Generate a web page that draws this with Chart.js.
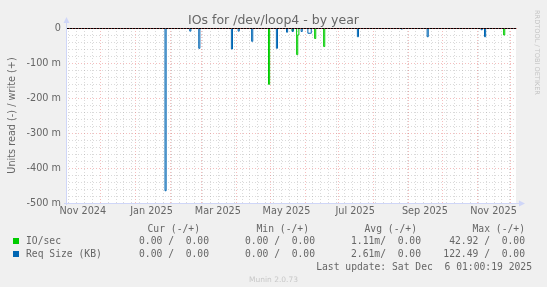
<!DOCTYPE html>
<html lang="en">
<head>
<meta charset="UTF-8">
<title>IOs for /dev/loop4 - by year</title>
<script src="https://cdn.jsdelivr.net/npm/chart.js"></script>
<style>
  body { margin: 0; background: #f0f0f0; }
  #wrap { position: relative; width: 547px; height: 287px; overflow: hidden;
          font-family: 'DejaVu Sans', sans-serif; color: #666; }
  #ioChart { position: absolute; left: 0; top: 0; }
  .t { position: absolute; white-space: pre; line-height: 12px; }
  .mono { font-family: 'DejaVu Sans Mono', monospace; font-size: 9.7px; }
  #title { left: 0; width: 547px; text-align: center; top: 12px; font-size: 12.5px; line-height: 15px; }
  #rrd { left: 533px; top: 10px; font-size: 6.6px; color: #c4c4c4; writing-mode: vertical-rl; line-height: 8px; }
  #munin { left: 0; width: 547px; text-align: center; top: 275px; font-size: 7.5px; color: #c8c8c8; line-height: 10px; }
  .sq { position: absolute; width: 6px; height: 6px; }
</style>
</head>
<body>
<div id="wrap">
  <canvas id="ioChart" width="547" height="287"></canvas>
  <div class="t" id="title">IOs for /dev/loop4 - by year</div>
  <div class="t" id="rrd">RRDTOOL / TOBI OETIKER</div>

  <div class="t mono" style="right:347px; top:223px">Cur (-/+)</div>
  <div class="t mono" style="right:238px; top:223px">Min (-/+)</div>
  <div class="t mono" style="right:130px; top:223px">Avg (-/+)</div>
  <div class="t mono" style="right:22px; top:223px">Max (-/+)</div>

  <div class="sq" style="left:13px; top:238px; background:#00cc00"></div>
  <div class="t mono" style="left:26px; top:235px">IO/sec</div>
  <div class="t mono" style="right:338px; top:235px">0.00 /  0.00</div>
  <div class="t mono" style="right:232px; top:235px">0.00 /  0.00</div>
  <div class="t mono" style="right:126px; top:235px">1.11m/  0.00</div>
  <div class="t mono" style="right:22px; top:235px">42.92 /  0.00</div>

  <div class="sq" style="left:13px; top:251px; background:#0066b3"></div>
  <div class="t mono" style="left:26px; top:248px">Req Size (KB)</div>
  <div class="t mono" style="right:338px; top:248px">0.00 /  0.00</div>
  <div class="t mono" style="right:232px; top:248px">0.00 /  0.00</div>
  <div class="t mono" style="right:126px; top:248px">2.61m/  0.00</div>
  <div class="t mono" style="right:22px; top:248px">122.49 /  0.00</div>

  <div class="t mono" style="right:15px; top:261px">Last update: Sat Dec  6 01:00:19 2025</div>
  <div class="t" id="munin">Munin 2.0.73</div>
</div>

<script>
    // days counted from Nov 1 2024 (400 day window, ends Dec 6 2025)
    const totalDays = 400;
    const monthStarts = [30, 61, 92, 120, 151, 181, 212, 242, 273, 304, 334, 365, 395];
    const labelDays = [15, 76, 135, 196, 257, 319, 380];
    const labelNames = ['Nov 2024', 'Jan 2025', 'Mar 2025', 'May 2025', 'Jul 2025', 'Sep 2025', 'Nov 2025'];
    const yTicks = [0, -100, -200, -300, -400, -500];

    // read side (negative), values in milli-units
    const ioDays = [180, 201, 205, 206, 221, 229, 389];
    const ioValues = [-161, -8, -76, -20, -30, -53, -20];
    const reqDays = [88, 110, 118, 147, 153, 165, 187, 196, 201, 209, 215, 216, 217, 259, 298, 321, 369, 372];
    const reqValues = [-465, -9, -58, -60, -9, -38, -58, -12, -10, -10, -15, -15, -15, -25, -3, -25, -5, -25];

    function series(days, values) {
        const pts = [];
        for (let d = 0; d <= totalDays; d++) {
            const i = days.indexOf(d);
            pts.push({ x: d, y: i >= 0 ? values[i] : 0 });
        }
        return pts;
    }

    const gridPlugin = {
        id: 'munGrid',
        beforeDatasetsDraw(chart) {
            const { ctx, chartArea: a, scales: { x, y } } = chart;
            const px = v => Math.round(v) + 0.5;
            ctx.save();
            ctx.fillStyle = '#ffffff';
            ctx.fillRect(a.left, a.top, a.right - a.left, a.bottom - a.top);
            ctx.lineWidth = 1;

            // minor grid
            ctx.strokeStyle = 'rgba(140,140,140,0.32)';
            ctx.setLineDash([1, 2]);
            ctx.beginPath();
            for (let v = -480; v < 0; v += 20) {
                if (v % 100 === 0) continue;
                const p = px(y.getPixelForValue(v));
                ctx.moveTo(a.left, p); ctx.lineTo(a.right, p);
            }
            for (let d = 2; d < totalDays; d += 7) {
                if (monthStarts.includes(d)) continue;
                const p = px(x.getPixelForValue(d));
                ctx.moveTo(p, a.top); ctx.lineTo(p, a.bottom);
            }
            ctx.stroke();

            // major grid
            ctx.strokeStyle = 'rgba(230,100,100,0.42)';
            ctx.beginPath();
            yTicks.forEach(v => {
                if (v === 0 || v === -500) return;
                const p = px(y.getPixelForValue(v));
                ctx.moveTo(a.left, p); ctx.lineTo(a.right, p);
            });
            monthStarts.forEach(d => {
                const p = px(x.getPixelForValue(d));
                ctx.moveTo(p, a.top); ctx.lineTo(p, a.bottom);
            });
            ctx.stroke();
            ctx.restore();
        },
        afterDatasetsDraw(chart) {
            const { ctx, chartArea: a, scales: { y } } = chart;
            ctx.save();
            ctx.lineWidth = 1;
            // zero line
            const z = Math.round(y.getPixelForValue(0)) + 0.5;
            ctx.strokeStyle = '#000';
            ctx.beginPath(); ctx.moveTo(a.left, z); ctx.lineTo(a.right, z); ctx.stroke();
            ctx.strokeStyle = 'rgba(225,90,90,0.6)';
            ctx.setLineDash([1, 2]);
            ctx.beginPath(); ctx.moveTo(a.left, z); ctx.lineTo(a.right + 3, z); ctx.stroke();
            ctx.setLineDash([]);

            // axes with arrows
            ctx.strokeStyle = '#cfd6f8';
            ctx.fillStyle = '#cfd6f8';
            const l = Math.round(a.left) + 0.5, b = Math.round(a.bottom) + 0.5;
            ctx.beginPath();
            ctx.moveTo(l, a.bottom + 2); ctx.lineTo(l, a.top - 6);
            ctx.moveTo(a.left - 2, b); ctx.lineTo(a.right + 4, b);
            ctx.stroke();
            ctx.beginPath();
            ctx.moveTo(l - 3, a.top - 5); ctx.lineTo(l + 3, a.top - 5); ctx.lineTo(l, a.top - 11); ctx.closePath();
            ctx.fill();
            ctx.beginPath();
            ctx.moveTo(a.right + 3, b - 3); ctx.lineTo(a.right + 3, b + 3); ctx.lineTo(a.right + 9, b); ctx.closePath();
            ctx.fill();

            // y axis title
            ctx.fillStyle = '#666';
            ctx.font = '9.7px "DejaVu Sans"';
            ctx.textAlign = 'center';
            ctx.textBaseline = 'middle';
            ctx.translate(12, (a.top + a.bottom) / 2);
            ctx.rotate(-Math.PI / 2);
            ctx.fillText('Units read (-) / write (+)', 0, 0);
            ctx.restore();
        }
    };

    const ctx = document.getElementById('ioChart').getContext('2d');
    new Chart(ctx, {
        type: 'line',
        data: {
            datasets: [
                {
                    label: 'IO/sec',
                    data: series(ioDays, ioValues),
                    borderColor: '#00cc00',
                    borderWidth: 1,
                    pointRadius: 0,
                    stepped: true,
                    fill: false,
                    order: 2
                },
                {
                    label: 'Req Size (KB)',
                    data: series(reqDays, reqValues),
                    borderColor: '#0066b3',
                    borderWidth: 1,
                    pointRadius: 0,
                    stepped: true,
                    fill: false,
                    order: 1
                }
            ]
        },
        options: {
            responsive: false,
            animation: false,
            layout: { padding: { left: 0, top: 28, right: 31, bottom: 60 } },
            plugins: { legend: { display: false }, tooltip: { enabled: false }, title: { display: false } },
            scales: {
                x: {
                    type: 'linear',
                    min: 0,
                    max: totalDays,
                    grid: { display: false, drawTicks: false },
                    border: { display: false },
                    afterFit(scale) { scale.height = 24; },
                    afterBuildTicks(scale) { scale.ticks = labelDays.map(d => ({ value: d })); },
                    ticks: {
                        autoSkip: false,
                        maxRotation: 0,
                        padding: 3,
                        color: '#666',
                        font: { family: 'DejaVu Sans', size: 9.7 },
                        callback: (v) => labelNames[labelDays.indexOf(v)]
                    }
                },
                y: {
                    min: -500,
                    max: 0,
                    grid: { display: false, drawTicks: false },
                    border: { display: false },
                    afterFit(scale) { scale.width = 66; },
                    afterBuildTicks(scale) { scale.ticks = yTicks.map(v => ({ value: v })); },
                    ticks: {
                        padding: 5,
                        color: '#666',
                        font: { family: 'DejaVu Sans', size: 9.7 },
                        callback: (v) => v === 0 ? '0' : v + ' m'
                    }
                }
            }
        },
        plugins: [gridPlugin]
    });
</script>
</body>
</html>
